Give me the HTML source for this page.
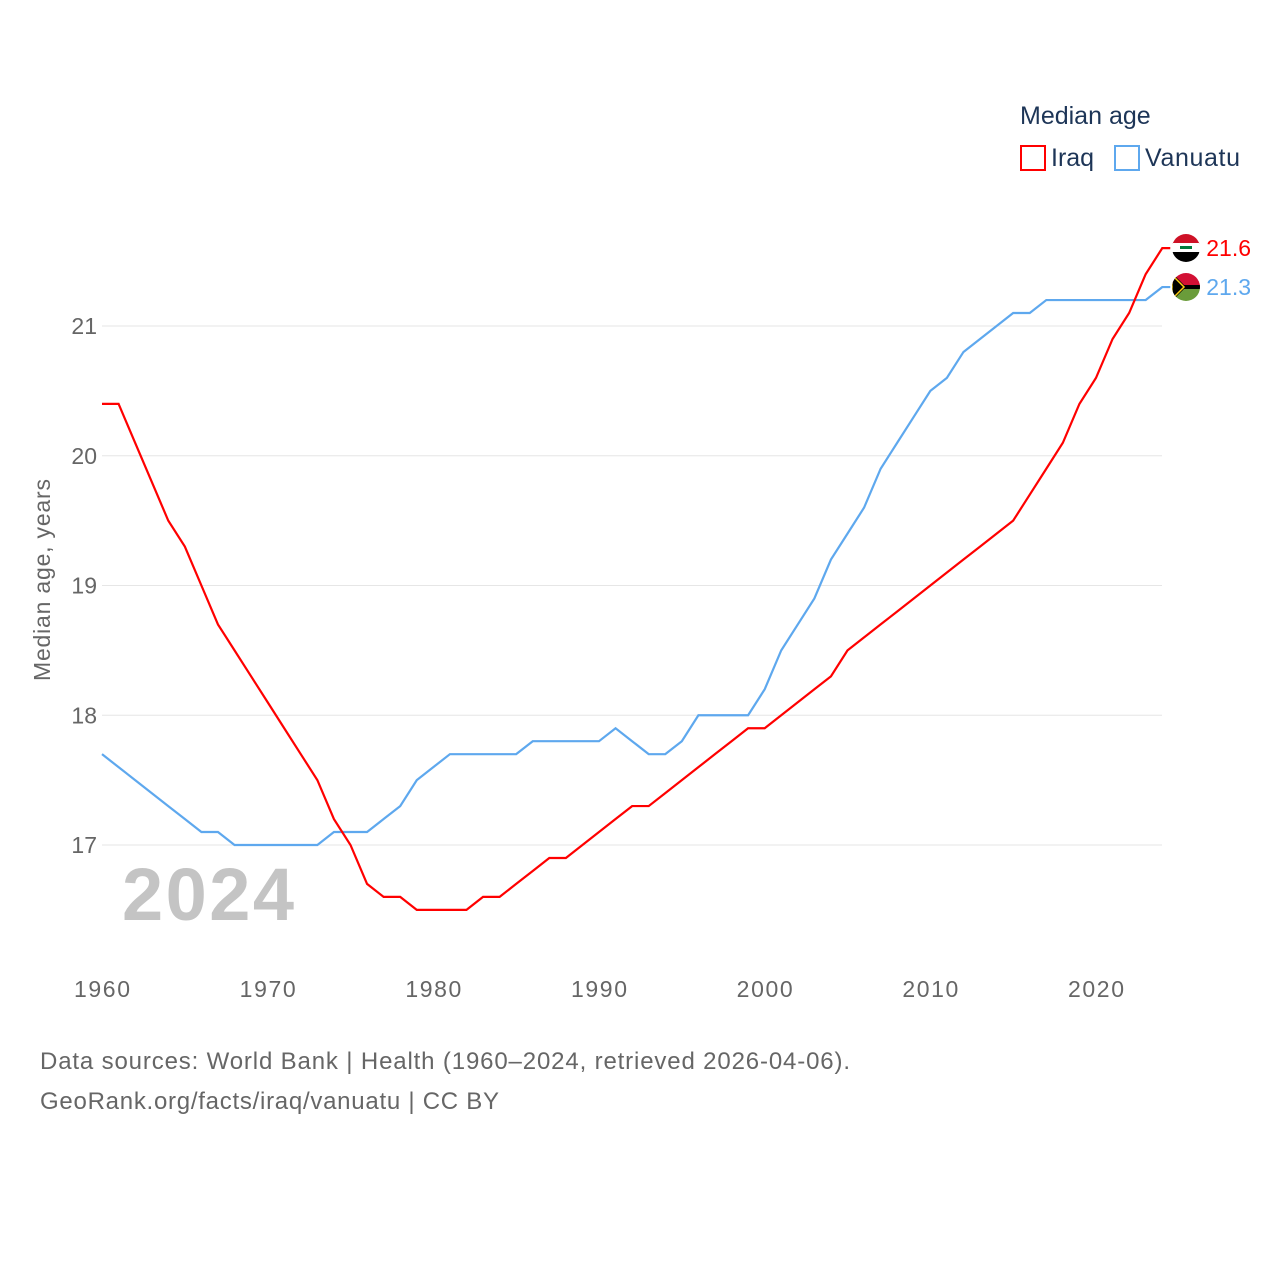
<!DOCTYPE html>
<html><head><meta charset="utf-8"><style>
body{margin:0;background:#fff;font-family:"Liberation Sans",sans-serif}
svg text{font-family:"Liberation Sans",sans-serif}
</style></head><body>
<svg id="c" width="1280" height="1280">
<defs>
<clipPath id="ci"><circle cx="1186" cy="248" r="14"/></clipPath>
<clipPath id="cv"><circle cx="1186" cy="287" r="14"/></clipPath>
</defs>
<text x="1020" y="124" font-size="25" fill="#1d3557">Median age</text>
<rect x="1021" y="146" width="24" height="24" fill="none" stroke="#ff0000" stroke-width="2"/>
<text x="1051" y="166" font-size="25" fill="#1d3557">Iraq</text>
<rect x="1115" y="146" width="24" height="24" fill="none" stroke="#5ea8ee" stroke-width="2"/>
<text x="1145" y="166" font-size="25" fill="#1d3557" textLength="95">Vanuatu</text>
<text transform="translate(50,580) rotate(-90)" text-anchor="middle" font-size="23" fill="#666" textLength="202">Median age, years</text>
<text x="122" y="920" font-size="74" font-weight="bold" fill="#c4c4c4" textLength="172">2024</text>
<text x="40" y="1069" font-size="24" fill="#666" textLength="810">Data sources: World Bank | Health (1960–2024, retrieved 2026-04-06).</text>
<text x="40" y="1109" font-size="24" fill="#666" textLength="459">GeoRank.org/facts/iraq/vanuatu | CC BY</text>
<g id="plot"></g>
<g clip-path="url(#ci)">
<rect x="1172" y="234" width="28" height="10" fill="#ce1126"/><rect x="1172" y="243" width="28" height="10" fill="#fff"/><rect x="1172" y="252" width="28" height="10" fill="#000"/>
<rect x="1180" y="246" width="12" height="3" fill="#007a3d"/>
</g>
<g clip-path="url(#cv)">
<rect x="1172" y="273" width="28" height="14" fill="#d21034"/><rect x="1172" y="287" width="28" height="14" fill="#6a9c3a"/>
<rect x="1172" y="285" width="28" height="4" fill="#000"/><polygon points="1172,273 1186,287 1172,301" fill="#000"/>
<polygon points="1172,275 1184,287 1172,299" fill="none" stroke="#fdce12" stroke-width="1.5"/>
</g>
</svg>
<script>
const years=[];for(let y=1960;y<=2024;y++)years.push(y);
const iraq=[20.4,20.4,20.1,19.8,19.5,19.3,19.0,18.7,18.5,18.3,18.1,17.9,17.7,17.5,17.2,17.0,16.7,16.6,16.6,16.5,16.5,16.5,16.5,16.6,16.6,16.7,16.8,16.9,16.9,17.0,17.1,17.2,17.3,17.3,17.4,17.5,17.6,17.7,17.8,17.9,17.9,18.0,18.1,18.2,18.3,18.5,18.6,18.7,18.8,18.9,19.0,19.1,19.2,19.3,19.4,19.5,19.7,19.9,20.1,20.4,20.6,20.9,21.1,21.4,21.6];
const vanuatu=[17.7,17.6,17.5,17.4,17.3,17.2,17.1,17.1,17.0,17.0,17.0,17.0,17.0,17.0,17.1,17.1,17.1,17.2,17.3,17.5,17.6,17.7,17.7,17.7,17.7,17.7,17.8,17.8,17.8,17.8,17.8,17.9,17.8,17.7,17.7,17.8,18.0,18.0,18.0,18.0,18.2,18.5,18.7,18.9,19.2,19.4,19.6,19.9,20.1,20.3,20.5,20.6,20.8,20.9,21.0,21.1,21.1,21.2,21.2,21.2,21.2,21.2,21.2,21.2,21.3];
const yTicks=[17,18,19,20,21];
const xTicks=[1960,1970,1980,1990,2000,2010,2020];
const X=y=>102+(y-1960)*994/60;
const Y=v=>845-(v-17)*129.75;
const g=document.getElementById('plot');const NS='http://www.w3.org/2000/svg';
function mk(t,a){const e=document.createElementNS(NS,t);for(const k in a)e.setAttribute(k,a[k]);g.appendChild(e);return e;}
yTicks.forEach(v=>{
 const l=mk('line',{x1:102,x2:1162,y1:Y(v),y2:Y(v),stroke:'#e6e6e6'});
 
 
 const t=mk('text',{x:97,y:Y(v)+8,'text-anchor':'end','font-size':23,fill:'#666'});t.textContent=v;
 
 
});
xTicks.forEach(v=>{
 const t=mk('text',{x:X(v),y:997,'text-anchor':'middle','font-size':23,fill:'#666',textLength:56});t.textContent=v;
 
 
});
function line(d,c,name){
 const pts=d.map((v,i)=>X(years[i])+','+Y(v));
 pts.push((X(years[years.length-1])+8)+','+Y(d[d.length-1]));
 const p=mk('polyline',{points:pts.join(' '),fill:'none',stroke:c,'stroke-width':2.2});
 
 
}
line(vanuatu,'#5ea8ee','vanuatu-line');
line(iraq,'#ff0000','iraq-line');
function end(d,c,name){
 const v=d[d.length-1],x=X(years[years.length-1]);
 const t=mk('text',{x:x+44,y:Y(v)+8,'font-size':23,fill:c});t.textContent=v.toFixed(1);
 
 
}
end(iraq,'#ff0000','iraq');
end(vanuatu,'#5ea8ee','vanuatu');
</script>
</body></html>
